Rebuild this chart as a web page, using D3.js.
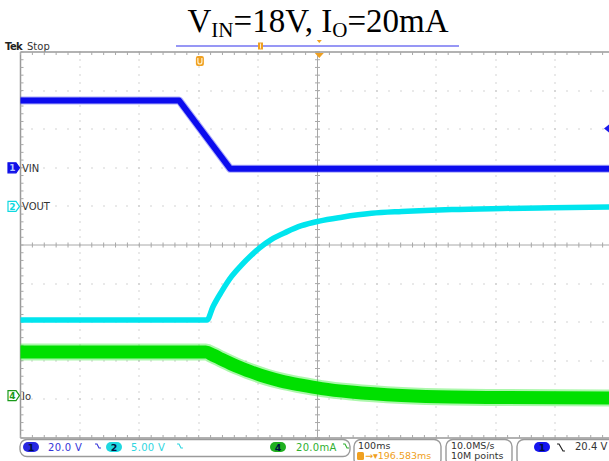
<!DOCTYPE html>
<html><head><meta charset="utf-8">
<script src="https://cdn.jsdelivr.net/npm/d3@7"></script>
<style>body{margin:0;background:#fff}svg{display:block}</style>
</head><body>
<svg id="scope" width="609" height="461"></svg>
<script>
// Acquisition record: 10 divisions at 100 ms/div (time in ms from left edge)
const vinTime  = [0, 267, 353, 1000];
const vinVolts = [34.9, 34.9, -0.5, -0.5];

const voutTime  = [0, 314, 324, 338, 355, 372, 389, 402, 422, 448, 473, 503, 541, 591, 642, 726, 811, 895, 1000];
const voutVolts = [-14.7, -14.7, -13.0, -11.1, -9.1, -7.6, -6.3, -5.4, -4.3, -3.3, -2.5, -1.9, -1.4, -0.9, -0.66, -0.4, -0.27, -0.18, -0.08];

const ioTime = [0, 312, 324, 338, 363, 389, 414, 439, 473, 507, 557, 642, 726, 811, 1000];
const ioMilliamps = [22.5, 22.5, 21.0, 18.9, 15.3, 12.2, 9.6, 7.5, 5.4, 3.6, 1.8, 0, -0.8, -1.0, -1.3];

// Channel setup: label, scale per division, ground position in divisions
const channelNames = ["VIN", "VOUT", "Io"];
const channelScales = [20, 5, 20];
const channelPositions = [2, 1, -3.9];
const scaleLabels = ["20.0 V", "5.00 V", "20.0mA"];
const triggerLevel = 20.4;     // V on CH1
const triggerTime = 503;       // ms, expansion point marker
const triggerPosTime = 302;    // ms, trigger position marker
const timebaseLabel = "100ms";
const delayLabel = "196.583ms";
const rateLabel = "10.0MS/s";
const lengthLabel = "10M points";
const triggerLabel = "20.4 V";

const svg = d3.select('#scope');
const plotLeft = 20.5, plotRight = 614.5, plotTop = 52, plotBottom = 438;
const x = d3.scaleLinear().domain([0, 1000]).range([plotLeft, plotRight]);
const yDiv = d3.scaleLinear().domain([-5, 5]).range([plotBottom, plotTop]);
const yCh = (i, v) => yDiv(channelPositions[i] + v / channelScales[i]);

const gridCol = "#a8a8a8";
const font = "DejaVu Sans";

// Title
const title = svg.append("text").attr("x", 318).attr("y", 32).attr("text-anchor", "middle")
  .attr("font-family", "Liberation Serif, Times New Roman, serif").attr("font-size", 33).attr("fill", "#000");
title.append("tspan").text("V");
title.append("tspan").text("IN").attr("font-size", 21).attr("dy", 5);
title.append("tspan").text("=18V, I").attr("dy", -5);
title.append("tspan").text("O").attr("font-size", 21).attr("dy", 5);
title.append("tspan").text("=20mA").attr("dy", -5);

// Tek Stop
svg.append("text").attr("x", 5).attr("y", 50).attr("font-family", font).attr("font-size", 10)
  .attr("font-weight", "bold").attr("letter-spacing", -0.6).attr("fill", "#222").text("Tek");
svg.append("text").attr("x", 27).attr("y", 50).attr("font-family", font).attr("font-size", 10)
  .attr("fill", "#333").text("Stop");

// Graticule
const g = svg.append("g");
const minorT = d3.range(0, 1000.01, 20);
const minorY = d3.range(-5, 5.001, 0.2);
const majorT = d3.range(100, 1000, 100).filter(t => t !== 500);
const majorY = d3.range(-4, 5, 1).filter(d => d !== 0);
majorT.forEach(t => minorY.forEach(d => {
  g.append("rect").attr("x", Math.round(x(t)) - 0.5).attr("y", Math.round(yDiv(d)) - 0.5)
    .attr("width", 1).attr("height", 1).attr("fill", gridCol);
}));
majorY.forEach(d => minorT.forEach(t => {
  g.append("rect").attr("x", Math.round(x(t)) - 0.5).attr("y", Math.round(yDiv(d)) - 0.5)
    .attr("width", 1).attr("height", 1).attr("fill", gridCol);
}));
// centre cross with ticks
g.append("line").attr("x1", plotLeft).attr("x2", plotRight).attr("y1", yDiv(0)).attr("y2", yDiv(0))
  .attr("stroke", gridCol).attr("stroke-width", 1);
g.append("line").attr("x1", x(500)).attr("x2", x(500)).attr("y1", plotTop).attr("y2", plotBottom)
  .attr("stroke", gridCol).attr("stroke-width", 1);
minorT.forEach(t => g.append("line").attr("x1", x(t)).attr("x2", x(t))
  .attr("y1", yDiv(0) - 2.5).attr("y2", yDiv(0) + 2.5).attr("stroke", gridCol));
minorY.forEach(d => g.append("line").attr("y1", yDiv(d)).attr("y2", yDiv(d))
  .attr("x1", x(500) - 2.5).attr("x2", x(500) + 2.5).attr("stroke", gridCol));
// border with ticks
g.append("line").attr("x1", plotLeft).attr("x2", plotRight).attr("y1", plotTop).attr("y2", plotTop)
  .attr("stroke", "#999").attr("stroke-width", 1.5);
g.append("line").attr("x1", plotLeft).attr("x2", plotRight).attr("y1", plotBottom).attr("y2", plotBottom)
  .attr("stroke", "#999").attr("stroke-width", 1.5);
g.append("line").attr("x1", plotLeft).attr("x2", plotLeft).attr("y1", plotTop).attr("y2", plotBottom)
  .attr("stroke", "#999").attr("stroke-width", 1.5);
minorT.forEach(t => {
  g.append("line").attr("x1", x(t)).attr("x2", x(t)).attr("y1", plotTop).attr("y2", plotTop + 3).attr("stroke", gridCol);
  g.append("line").attr("x1", x(t)).attr("x2", x(t)).attr("y1", plotBottom).attr("y2", plotBottom - 3).attr("stroke", gridCol);
});
minorY.forEach(d => g.append("line").attr("y1", yDiv(d)).attr("y2", yDiv(d))
  .attr("x1", plotLeft).attr("x2", plotLeft + 3).attr("stroke", gridCol));

// Traces
const lineFor = (i, curve) => d3.line().x(d => x(d[0])).y(d => yCh(i, d[1])).curve(curve);
const vinData = vinTime.map((t, k) => [t, vinVolts[k]]);
const voutData = voutTime.map((t, k) => [t, voutVolts[k]]);
const ioData = ioTime.map((t, k) => [t, ioMilliamps[k]]);

const traces = svg.append("g").attr("fill", "none").attr("stroke-linejoin", "round");
traces.append("path").attr("d", lineFor(2, d3.curveMonotoneX)(ioData))
  .attr("stroke", "#30ea30").attr("stroke-opacity", 0.4).attr("stroke-width", 17);
traces.append("path").attr("d", lineFor(2, d3.curveMonotoneX)(ioData))
  .attr("stroke", "#00e000").attr("stroke-width", 13);
traces.append("path").attr("d", lineFor(1, d3.curveMonotoneX)(voutData))
  .attr("stroke", "#00e5ee").attr("stroke-width", 5.5);
traces.append("path").attr("d", lineFor(0, d3.curveLinear)(vinData))
  .attr("stroke", "#3030f0").attr("stroke-opacity", 0.4).attr("stroke-width", 8);
traces.append("path").attr("d", lineFor(0, d3.curveLinear)(vinData))
  .attr("stroke", "#0c0cee").attr("stroke-width", 6);

// Channel ground markers and labels
const chColors = ["#1010e8", "#10d8e0", "#1a9a1a"];
const chNums = ["1", "2", "4"];
channelNames.forEach((name, i) => {
  const yy = yCh(i, 0);
  const filled = i === 0;
  svg.append("path").attr("d", `M8,${yy - 5} h8 l3.5,5 l-3.5,5 h-8 z`)
    .attr("fill", filled ? chColors[i] : "#fff").attr("stroke", chColors[i]).attr("stroke-width", 1.2);
  svg.append("text").attr("x", 12.5).attr("y", yy + 3.6).attr("text-anchor", "middle")
    .attr("font-family", font).attr("font-size", 9).attr("font-weight", "bold")
    .attr("fill", filled ? "#b8c8ff" : chColors[i]).text(chNums[i]);
  svg.append("text").attr("x", 22).attr("y", yy + 4).attr("font-family", font).attr("font-size", 10)
    .attr("fill", "#333").text(name);
});

// Trigger level marker on right edge
const ty = yCh(0, triggerLevel);
svg.append("path").attr("d", `M604,${ty} l5,-4 v8 z`).attr("fill", "#1a1aee");

// Horizontal position bar and trigger markers
const orange = "#f0a020";
svg.append("line").attr("x1", 176).attr("x2", 459).attr("y1", 46).attr("y2", 46)
  .attr("stroke", "#7474f2").attr("stroke-width", 1.5);
svg.append("rect").attr("x", 258).attr("y", 42.5).attr("width", 5).attr("height", 7).attr("fill", orange);
svg.append("line").attr("x1", 260.5).attr("x2", 260.5).attr("y1", 43.5).attr("y2", 48.5).attr("stroke", "#fff").attr("stroke-width", 0.8);
const tx = x(triggerTime);
svg.append("path").attr("d", `M${tx - 2.5},40 h5 l-2.5,3 z`).attr("fill", orange);
svg.append("path").attr("d", `M${tx - 4.5},53 h9 l-4.5,5 z`).attr("fill", orange);
const px = x(triggerPosTime);
svg.append("rect").attr("x", px - 4).attr("y", 56).attr("width", 8).attr("height", 10).attr("rx", 2).attr("fill", orange);
svg.append("path").attr("d", `M${px - 2},58 v4 q0,2 2,2 q2,0 2,-2 v-4`).attr("fill", "none")
  .attr("stroke", "#fff3d0").attr("stroke-width", 1.2);

// Status bar
const sb = svg.append("g");
sb.append("rect").attr("x", 0).attr("y", 439).attr("width", 609).attr("height", 22).attr("fill", "#fff");
const box = (x0, x1, y0, y1) => sb.append("rect").attr("x", x0).attr("y", y0).attr("width", x1 - x0)
  .attr("height", y1 - y0).attr("rx", 7).attr("fill", "#fff").attr("stroke", "#9a9a9a").attr("stroke-width", 1.4);
box(20, 350, 439.5, 456.5);
box(354, 441, 439.5, 466);
box(446, 512, 439.5, 466);
box(517, 640, 439.5, 466);

const pill = (cx, col, num) => {
  sb.append("rect").attr("x", cx - 8).attr("y", 442).attr("width", 16).attr("height", 10).attr("rx", 5).attr("fill", col);
  sb.append("text").attr("x", cx).attr("y", 450.5).attr("text-anchor", "middle").attr("font-family", font)
    .attr("font-size", 9.5).attr("font-weight", "bold").attr("fill", "#001040").text(num);
};
const bwIcon = (x0, col) => sb.append("path").attr("d", `M${x0},444 h2 l2,4 h2`).attr("fill", "none")
  .attr("stroke", col).attr("stroke-width", 1.1);
const statusCols = ["#2828e0", "#20d8e0", "#20b020"];
const labelCols = ["#3535d8", "#30d6e0", "#30b030"];
const pillX = [31, 114, 278];
const textX = [48, 131, 296];
const iconX = [95, 177, 343];
[0, 1, 2].forEach(i => {
  pill(pillX[i], statusCols[i], chNums[i]);
  sb.append("text").attr("x", textX[i]).attr("y", 451).attr("font-family", font).attr("font-size", 10)
    .attr("letter-spacing", 0.3).attr("fill", labelCols[i]).text(scaleLabels[i]);
  bwIcon(iconX[i], labelCols[i]);
});
sb.append("text").attr("x", 358).attr("y", 449).attr("font-family", font).attr("font-size", 9.5)
  .attr("fill", "#333").text(timebaseLabel);
sb.append("rect").attr("x", 357).attr("y", 452).attr("width", 7).attr("height", 8).attr("rx", 1.5).attr("fill", orange);
sb.append("text").attr("x", 365).attr("y", 459).attr("font-family", font).attr("font-size", 9.5)
  .attr("fill", orange).text("\u2192\u25BE" + delayLabel);
sb.append("text").attr("x", 451).attr("y", 449).attr("font-family", font).attr("font-size", 9.5)
  .attr("fill", "#333").text(rateLabel);
sb.append("text").attr("x", 451).attr("y", 459).attr("font-family", font).attr("font-size", 9.5)
  .attr("fill", "#333").text(lengthLabel);
pill(542, "#1515ee", "1");
sb.append("path").attr("d", "M557,444 h2 l4,7 h2").attr("fill", "none").attr("stroke", "#222").attr("stroke-width", 1.2);
sb.append("text").attr("x", 575).attr("y", 450).attr("font-family", font).attr("font-size", 10)
  .attr("fill", "#333").text(triggerLabel);
</script>
</body></html>
